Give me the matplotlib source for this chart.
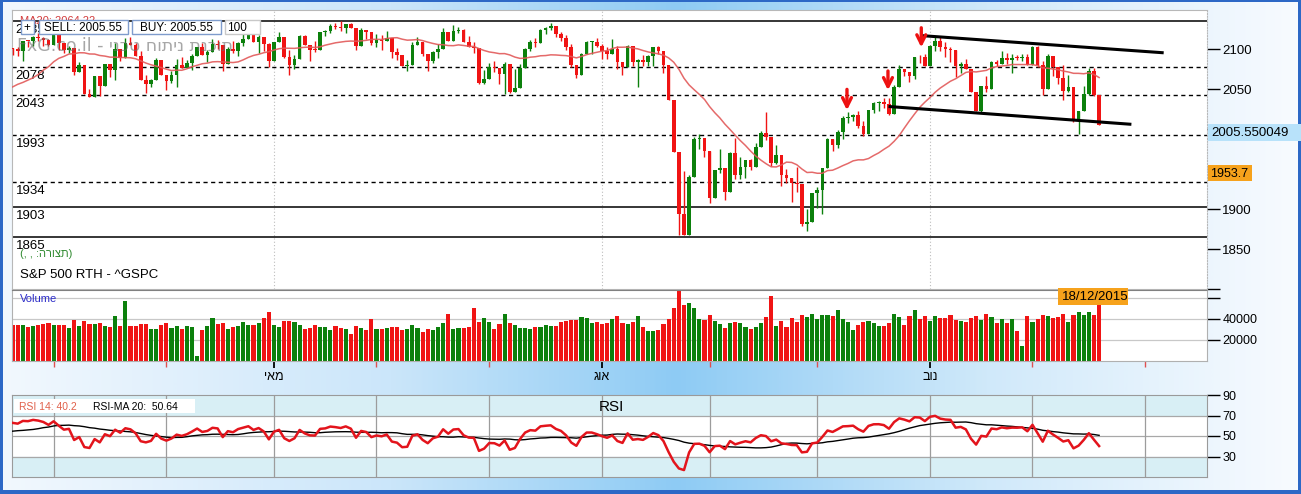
import numpy as np
import pandas as pd
import matplotlib
matplotlib.use("Agg")
import matplotlib.pyplot as plt
from matplotlib.colors import LinearSegmentedColormap
from matplotlib.patches import Rectangle

plt.rcParams['font.family'] = ['Liberation Sans', 'DejaVu Sans']
NARROW = ['Liberation Sans Narrow', 'Liberation Sans', 'DejaVu Sans']

# ---- data: S&P 500 daily, 18/02/2015 .. 18/12/2015 ----
# closes before the window (only used to seed MA20 / RSI14)
prior_closes = [2053.44, 2066.55, 2074.33, 2071.92, 2075.37, 2060.31, 2059.82, 2026.14, 2035.33, 2002.33,
                1989.63, 1972.74, 2012.89, 2061.23, 2070.65, 2078.54, 2082.17, 2081.88, 2088.77, 2090.57,
                2080.35, 2058.90,
                2058.20, 2020.58, 2002.61, 2025.90, 2062.14, 2044.81, 2028.26, 2023.03, 2011.27, 1992.67,
                2019.42, 2022.55, 2032.12, 2063.15, 2051.82, 2057.09, 2029.55, 2002.16, 2021.25, 1994.99,
                2020.85, 2050.03, 2041.51, 2062.52, 2055.47, 2046.74, 2068.59, 2068.53, 2088.48, 2096.99,
                2100.34]

closes = [2099.68, 2097.45, 2110.30, 2109.66, 2115.48, 2113.86, 2110.74, 2104.50,
          2117.39, 2107.78, 2098.53, 2101.04, 2071.26, 2079.43, 2044.16, 2040.24, 2065.95, 2053.40,
          2081.19, 2074.28, 2099.50, 2089.27, 2108.10, 2104.42, 2091.50, 2061.05, 2056.15, 2061.02,
          2086.24, 2067.89,
          2059.69, 2066.96, 2080.62, 2076.33, 2081.90, 2091.18, 2102.06, 2092.43, 2095.84, 2106.63,
          2104.99, 2081.18, 2100.40, 2097.29, 2107.96, 2112.93, 2117.69, 2108.92, 2114.76, 2106.85,
          2085.51,
          2108.29, 2114.49, 2089.46, 2080.15, 2088.00, 2116.10, 2105.33, 2099.12, 2098.48, 2121.10,
          2122.73, 2129.20, 2127.83, 2125.85, 2130.82, 2126.06, 2104.20, 2123.48, 2120.79, 2107.39,
          2111.73, 2109.60, 2114.07, 2095.84, 2092.83, 2079.28, 2080.15, 2105.20, 2108.86, 2094.11,
          2084.43, 2096.29, 2100.44, 2121.24, 2109.99, 2122.85, 2124.20, 2108.58, 2102.31, 2101.49,
          2057.64, 2063.11,
          2077.42, 2076.78, 2068.76, 2081.34, 2046.68, 2051.31, 2076.62, 2099.60, 2108.95, 2107.40,
          2124.29, 2126.64, 2128.28, 2119.21, 2114.15, 2102.15, 2079.65, 2067.64, 2093.25, 2108.57,
          2108.63, 2103.84,
          2098.04, 2093.32, 2099.84, 2083.56, 2077.57, 2104.18, 2084.07, 2086.05, 2083.39, 2091.54,
          2102.44, 2096.92, 2079.61, 2035.73, 1970.89, 1893.21, 1867.61, 1940.51, 1987.66, 1988.87,
          1972.18,
          1913.85, 1948.86, 1951.13, 1921.22, 1969.41, 1942.04, 1952.29, 1961.05, 1953.03, 1978.09,
          1995.31, 1990.20, 1958.03, 1966.97, 1942.74, 1938.76, 1932.24, 1931.34, 1881.77, 1884.09,
          1920.03,
          1923.82, 1951.36, 1987.05, 1979.92, 1995.83, 2013.43, 2014.89, 2017.46, 2003.69, 1994.24,
          2023.86, 2033.11, 2033.66, 2030.77, 2018.94, 2052.51, 2075.15, 2071.18, 2065.89, 2090.35,
          2089.41, 2079.36,
          2104.05, 2109.79, 2102.31, 2099.93, 2099.20, 2078.58, 2081.72, 2075.00, 2045.97, 2023.04,
          2053.19, 2050.44, 2083.58, 2081.24, 2089.17, 2086.59, 2089.14, 2088.87, 2090.11, 2080.41,
          2102.63, 2079.51, 2049.62, 2091.69, 2077.07, 2063.59, 2047.62, 2052.23, 2012.37, 2021.94,
          2043.41, 2073.07, 2041.89, 2005.55]

highs = [2100.7, 2102.1, 2110.6, 2110.1, 2115.8, 2119.6, 2115.0, 2112.5, 2117.5, 2115.8,
         2107.7, 2104.3, 2100.9, 2083.5, 2076.2, 2050.1, 2066.0, 2064.9, 2081.4, 2080.6,
         2106.9, 2098.7, 2113.9, 2114.9, 2107.6, 2097.4, 2067.2, 2062.8, 2088.9, 2084.1,
         2067.9, 2072.2, 2086.9, 2089.8, 2086.7, 2093.3, 2102.6, 2107.7, 2098.3, 2111.9,
         2111.3, 2104.9, 2101.9, 2109.6, 2109.3, 2120.9, 2120.9, 2125.9, 2116.9, 2113.8,
         2106.9, 2108.4, 2120.9, 2114.2, 2098.4, 2092.9, 2117.7, 2117.2, 2105.1, 2110.2,
         2121.5, 2123.9, 2131.8, 2133.0, 2134.7, 2131.8, 2132.2, 2126.2, 2126.2, 2122.3,
         2120.7, 2119.2, 2117.6, 2121.9, 2114.1, 2100.9, 2093.0, 2085.7, 2108.5, 2115.0,
         2104.9, 2094.1, 2097.0, 2106.8, 2126.7, 2121.0, 2130.2, 2127.9, 2125.1, 2116.4,
         2108.9, 2096.0, 2074.3, 2082.8, 2085.1, 2074.2, 2083.6, 2077.4, 2074.9, 2081.3,
         2100.7, 2111.0, 2114.2, 2124.4, 2128.0, 2132.8, 2128.3, 2121.6, 2116.9, 2106.0,
         2078.4, 2095.6, 2110.6, 2110.5, 2114.2, 2105.7, 2102.5, 2112.7, 2103.3, 2083.6,
         2105.4, 2103.9, 2087.6, 2092.9, 2092.9, 2102.9, 2103.5, 2096.9, 2079.6, 2034.1,
         1965.2, 1948.0, 1943.1, 1989.6, 1993.5, 1985.2, 1947.8, 1948.9, 1975.0, 1947.8,
         1970.9, 1988.6, 1965.3, 1961.1, 1963.1, 1983.0, 1997.3, 2020.9, 1989.4, 1979.6,
         1967.0, 1949.5, 1938.8, 1952.9, 1931.3, 1899.5, 1920.5, 1927.2, 1951.4, 1989.2,
         1987.1, 1999.3, 2016.5, 2020.9, 2018.7, 2022.3, 2009.6, 2024.2, 2033.5, 2034.5,
         2039.1, 2038.7, 2055.2, 2079.7, 2075.1, 2070.4, 2090.4, 2092.5, 2094.3, 2105.2,
         2116.5, 2114.6, 2108.8, 2101.9, 2095.9, 2083.7, 2086.9, 2071.0, 2044.6, 2053.2,
         2066.7, 2084.4, 2086.7, 2097.1, 2095.6, 2094.1, 2093.0, 2093.8, 2093.8, 2103.4,
         2104.3, 2085.0, 2093.8, 2090.4, 2077.1, 2080.3, 2067.6, 2047.3, 2022.9, 2053.9,
         2076.7, 2076.4, 2041.9]

lows = [2092.2, 2090.8, 2085.4, 2102.5, 2103.8, 2109.9, 2103.8, 2103.8, 2104.5, 2098.3,
        2094.5, 2095.5, 2067.3, 2071.3, 2044.2, 2039.7, 2040.2, 2041.2, 2055.5, 2065.1,
        2061.2, 2085.6, 2089.7, 2104.4, 2091.5, 2061.1, 2045.5, 2052.9, 2061.0, 2067.0,
        2048.4, 2057.3, 2052.4, 2076.1, 2076.3, 2074.3, 2091.2, 2092.3, 2083.2, 2095.8,
        2100.0, 2073.0, 2081.2, 2094.4, 2091.1, 2103.2, 2112.8, 2108.9, 2094.9, 2097.4,
        2077.5, 2085.5, 2108.3, 2088.8, 2067.9, 2075.0, 2088.0, 2104.6, 2085.6, 2096.0,
        2098.5, 2116.8, 2120.0, 2124.5, 2122.6, 2120.0, 2126.1, 2099.2, 2104.2, 2112.8,
        2104.9, 2102.5, 2099.1, 2109.6, 2088.9, 2085.7, 2079.1, 2072.1, 2080.2, 2105.2,
        2091.0, 2072.5, 2082.2, 2088.9, 2100.4, 2109.8, 2110.0, 2119.9, 2108.6, 2102.3,
        2095.4, 2056.2, 2056.3, 2063.1, 2071.0, 2056.3, 2044.0, 2044.7, 2049.3, 2051.3,
        2076.6, 2098.0, 2102.1, 2107.4, 2119.1, 2123.7, 2115.4, 2110.1, 2098.6, 2077.1,
        2063.5, 2067.6, 2094.1, 2094.1, 2102.1, 2087.3, 2088.0, 2093.3, 2075.5, 2067.0,
        2077.6, 2079.3, 2052.1, 2078.3, 2078.3, 2079.3, 2094.1, 2070.5, 2035.7, 1970.9,
        1867.0, 1867.1, 1872.8, 1940.5, 1975.2, 1965.6, 1907.0, 1916.5, 1944.7, 1911.2,
        1921.2, 1937.9, 1937.2, 1939.2, 1948.3, 1953.0, 1977.9, 1986.7, 1953.6, 1955.8,
        1929.0, 1932.6, 1908.9, 1921.5, 1879.2, 1871.9, 1888.9, 1900.7, 1893.7, 1951.4,
        1971.9, 1976.5, 1987.5, 2007.6, 2010.6, 2001.8, 1990.7, 1994.2, 2020.5, 2022.3,
        2026.6, 2017.2, 2018.9, 2058.8, 2066.5, 2058.8, 2063.1, 2082.6, 2079.1, 2080.8,
        2097.5, 2096.9, 2090.4, 2083.7, 2064.8, 2069.9, 2074.6, 2045.7, 2022.0, 2019.4,
        2045.9, 2050.4, 2078.8, 2083.2, 2081.4, 2070.3, 2086.3, 2084.4, 2080.4, 2082.9,
        2077.1, 2042.4, 2051.2, 2066.8, 2056.7, 2036.5, 2045.8, 2008.8, 1993.3, 2021.9,
        2042.4, 2041.7, 2005.5]

volumes = [34000, 34500, 33900, 32300, 32900, 33900, 35200, 36100, 34500, 34500,
           34500, 31300, 39400, 33500, 37700, 35500, 35200, 35800, 33500, 32600,
           42600, 33500, 57100, 33500, 32900, 35500, 35500, 30600, 30000, 34500,
           36100, 31300, 33500, 30600, 33500, 32600, 4800, 29700, 33500, 41000,
           35200, 36100, 30600,
           32300, 33500, 37400, 34500, 34500, 36500, 41000, 46500, 34500, 31900,
           38400, 38400, 37100, 34500, 30600, 31600, 34500, 32600, 31900, 29700,
           33500, 31300, 30600, 25800, 33500, 31600, 29700, 40300, 30600, 30600,
           31600, 32600, 32300, 29700, 30600, 34500, 31600, 27700, 30600, 29700,
           32300, 36100, 45200,
           30600, 31600, 31600, 32300, 50600, 37400, 41300, 37400, 30600, 35200,
           45200, 36500, 34500, 31300, 31600, 30600, 32600, 32600, 34500, 32900,
           33500, 37400, 38400, 39400, 39400, 42300, 41300, 36500, 37400, 35500,
           36500, 40300, 43200, 36500, 35500, 37400, 43200, 32600, 28700, 28700,
           29700, 35500,
           40300, 50600, 67400, 52900, 54800, 50600, 40300, 39400, 44200, 38400,
           35500, 31600, 36500, 37400, 36500, 32300, 30600, 32600, 36500, 42300,
           61600, 33500, 38400, 32600, 41300, 37400, 44200, 42300, 45200, 40300,
           44200, 44200, 43200, 48100, 40300, 37400, 29700, 34500, 37400, 38400,
           36500, 33500, 33500,
           36100, 45200, 42300, 34500, 43200, 48100, 40300, 43200, 38400, 43200,
           41300, 41300, 44200, 39400, 38400, 37400, 41300, 43200, 39400, 45200,
           42300, 36500, 40300, 36500, 40300, 28700, 14200, 43200, 37400, 40300,
           44200, 43200, 41300, 42300, 45200, 37400, 44200, 47100, 44200, 47100,
           44200, 53900]

holidays = ['2015-04-03', '2015-05-25', '2015-07-03', '2015-09-07', '2015-11-26',
            '2015-12-25', '2016-01-01']
month_names = {5: 'יאמ', 8: 'גוא', 11: 'בונ'}   # visual order of מאי / אוג / נוב

dashed_levels = [2078, 2043, 1993, 1934]
solid_levels = [2135, 1903, 1865]

# channel lines (bar index, price) and signal arrows
upper_x, upper_y = [177.4, 224.3], [2116.7, 2095.4]
lower_x, lower_y = [171.2, 218.0], [2028.0, 2006.0]
arrow_x = [162.8, 170.8, 177.3]
arrow_tip = [2020.0, 2045.0, 2098.5]
arrow_tail = [2053.0, 2076.0, 2130.0]

# ---- derived series ----
n = len(closes)
idx = np.arange(n)
c = np.array(closes)
o = np.r_[prior_closes[-1], c[:-1]]
hi = np.maximum(np.array(highs), np.maximum(o, c))
lo = np.minimum(np.array(lows), np.minimum(o, c))
col = np.where(c >= o, '#0c800c', '#f01414')

full = pd.Series(prior_closes + closes)
ma20 = full.rolling(20).mean().values[-n:]
delta = full.diff()
avg_g = delta.clip(lower=0).ewm(alpha=1 / 14, adjust=False).mean()
avg_l = (-delta.clip(upper=0)).ewm(alpha=1 / 14, adjust=False).mean()
rsi_full = 100 - 100 / (1 + avg_g / avg_l)
rsi = rsi_full.values[-n:]
rsi_ma = rsi_full.rolling(20).mean().values[-n:]

days = pd.bdate_range('2015-02-18', '2016-01-29', freq='C', holidays=holidays)
month_idx = [i for i in range(1, len(days)) if days[i].month != days[i - 1].month]
XMIN, XMAX = -0.12, 233.05
month_idx = [i for i in month_idx if i < XMAX]
major_idx = [i for i in month_idx if days[i].month in month_names]
minor_idx = [i for i in month_idx if days[i].month not in month_names]

# ---- figure ----
W, H = 1301, 494
fig = plt.figure(figsize=(W / 100, H / 100), dpi=100)


def px_axes(x0, y0, x1, y1, z=0):
    return fig.add_axes([x0 / W, 1 - y1 / H, (x1 - x0) / W, (y1 - y0) / H], zorder=z)


bg = px_axes(0, 0, W, H, z=-10)
bg.axis('off')
cmap = LinearSegmentedColormap.from_list(
    'bg', [(0, '#f2f8fe'), (0.3, '#cbe6fa'), (0.52, '#8ecbf4'), (0.76, '#d0e9fa'), (1, '#f8fbff')])
bg.imshow(np.linspace(0, 1, 512)[None, :], aspect='auto', cmap=cmap, extent=[0, 1, 0, 1])
bg.set_xlim(0, 1)
bg.set_ylim(0, 1)

# price panel
ax = px_axes(12, 10, 1207, 289, z=1)
ax.set_facecolor('white')
ax.set_xlim(XMIN, XMAX)
ax.set_ylim(1800, 2148.75)
for i in major_idx:
    ax.axvline(i, color='#bdbdbd', lw=0.8, ls=(0, (1, 2)), zorder=1)
for lvl in dashed_levels:
    ax.axhline(lvl, color='black', lw=1, ls=(0, (3, 2.5)), zorder=2)
for lvl in solid_levels:
    ax.axhline(lvl, color='black', lw=1.1, zorder=2)
for lvl in dashed_levels + solid_levels:
    ax.annotate(str(lvl), xy=(0.003, lvl), xycoords=('axes fraction', 'data'),
                xytext=(0, -2.5), textcoords='offset points', va='top', ha='left',
                fontsize=9.5, family=NARROW, zorder=3)
ax.vlines(idx, lo, hi, colors=col, lw=1, zorder=3)
ax.bar(idx, np.maximum(np.abs(c - o), 1.0), bottom=np.minimum(o, c), width=0.72,
       color=col, linewidth=0, zorder=4)
ax.plot(idx, ma20, color='#e25a5a', lw=1.1, alpha=0.9, zorder=5)
ax.plot(upper_x, upper_y, color='black', lw=2.2, zorder=6)
ax.plot(lower_x, lower_y, color='black', lw=2.2, zorder=6)
for x, tip, tail in zip(arrow_x, arrow_tip, arrow_tail):
    ax.annotate('', xy=(x, tip), xytext=(x, tail),
                arrowprops=dict(arrowstyle='->', color='#ee1111', lw=2.4, mutation_scale=16),
                zorder=7)
ax.yaxis.tick_right()
ax.set_yticks([1800, 1850, 1900, 1950, 2000, 2050, 2100])
ax.set_yticklabels(['', '1850', '1900', '1950', '2000', '2050', '2100'])
ax.tick_params(axis='y', length=9, width=1, pad=2, labelsize=9.5, labelfontfamily=NARROW)
ax.set_xticks([])
for s in ax.spines.values():
    s.set_color('#b8b8b8')
    s.set_linewidth(0.8)
ax.spines['right'].set_linestyle((0, (1, 1.5)))

# volume panel
vax = px_axes(12, 290, 1207, 361, z=1)
vax.set_facecolor('white')
vax.set_xlim(XMIN, XMAX)
vax.set_ylim(0, 67600)
for lvl in [20000, 40000, 60000]:
    vax.axhline(lvl, color='#c8c8c8', lw=0.9, zorder=0)
vax.bar(idx, volumes, width=0.8, color=col, linewidth=0, zorder=2)
vax.yaxis.tick_right()
vax.set_yticks([20000, 40000, 60000])
vax.set_yticklabels(['20000', '40000', ''])
vax.tick_params(axis='y', length=9, width=1, pad=2, labelsize=9, labelfontfamily=NARROW)
vax.set_xticks(major_idx)
vax.set_xticklabels([month_names[days[i].month] for i in major_idx])
vax.set_xticks(minor_idx, minor=True)
vax.tick_params(axis='x', which='major', length=5, width=1.3, color='black', labelsize=9, pad=2)
vax.tick_params(axis='x', which='minor', length=4, width=1, color='#e05050')
for s in vax.spines.values():
    s.set_color('#b0b0b0')
    s.set_linewidth(0.8)
vax.spines['top'].set_linestyle((0, (1, 1)))
vax.spines['top'].set_color('#808080')

# RSI panel
rax = px_axes(12, 395, 1207, 477, z=1)
rax.set_facecolor('white')
rax.set_xlim(XMIN, XMAX)
rax.set_ylim(10, 90)
rax.axhspan(70, 90, color='#d8eff5', zorder=0)
rax.axhspan(10, 30, color='#d8eff5', zorder=0)
for lvl in [30, 50, 70]:
    rax.axhline(lvl, color='#a8a8a8', lw=0.9, zorder=1)
for i in month_idx:
    rax.axvline(i, color='#9c9c9c', lw=0.9, zorder=1)
rax.plot(idx, rsi_ma, color='black', lw=1, zorder=3)
rax.plot(idx, rsi, color='#e3141c', lw=1.8, zorder=4)
rax.yaxis.tick_right()
rax.set_yticks([30, 50, 70, 90])
rax.tick_params(axis='y', length=9, width=1, pad=2, labelsize=9, labelfontfamily=NARROW)
rax.set_xticks([])
for s in rax.spines.values():
    s.set_color('#9a9a9a')
    s.set_linewidth(0.8)

# overlay in pixel coordinates
ov = px_axes(0, 0, W, H, z=20)
ov.set_xlim(0, W)
ov.set_ylim(H, 0)
ov.axis('off')

frame = '#2d68c6'
for r in [(0, 0, 3, H), (0, 0, W, 2.5), (0, H - 4, W, 4), (W - 3, 0, 3, H)]:
    ov.add_patch(Rectangle(r[:2], r[2], r[3], color=frame, lw=0, zorder=1))

ov.text(20, 21, 'MA20: 2064.22', color='#d23a3a', fontsize=8, va='center', zorder=1)
boxes = [(20.5, 13.5, '+', '#7f9ccc', 'center'),
         (38.5, 89, 'SELL: 2005.55', '#7f9ccc', 'center'),
         (131.5, 89, 'BUY: 2005.55', '#7f9ccc', 'center'),
         (224.5, 35, '100', '#c8c8c8', 'left')]
for x, w, label, ec, ha in boxes:
    ov.add_patch(Rectangle((x, 20.5), w, 13.5, facecolor='white', edgecolor=ec, lw=1, zorder=2))
    tx = x + w / 2 if ha == 'center' else x + 3
    ov.text(tx, 27.8, label, fontsize=8.5, ha=ha, va='center', zorder=3)

ov.text(17, 46, 'FxG.co.il - ינכט חותינ תנכות', fontsize=12.5, color='#6c6c6c',
        alpha=0.6, va='center', family=['DejaVu Sans'], zorder=4)

ov.text(20, 254, '(, , :הרוצת)', fontsize=8, color='#2f8a2f', va='center')
ov.text(20, 275, 'S&P 500 RTH - ^GSPC', fontsize=9.5, va='center')
ov.text(20, 299, 'Volume', fontsize=8, color='#2c2cc8', va='center')

ov.add_patch(Rectangle((1208, 124), 93, 17, facecolor='#b8e2fa', lw=0, zorder=2))
ov.text(1211, 133, '2005.550049', fontsize=9.5, va='center', zorder=3)
ov.add_patch(Rectangle((1208, 165), 44, 16, facecolor='#f6a21c', lw=0, zorder=2))
ov.text(1210, 173.5, '1953.7', fontsize=9, va='center', zorder=3)
ov.add_patch(Rectangle((1058, 288), 70, 17, facecolor='#f6a21c', lw=0, zorder=2))
ov.text(1062, 297, '18/12/2015', fontsize=9.5, va='center', zorder=3)

ov.add_patch(Rectangle((14, 399), 181, 14, facecolor='white', lw=0, zorder=2))
ov.text(19, 406.5, 'RSI 14: 40.2', fontsize=7.5, color='#e0604a', va='center', zorder=3)
ov.text(93, 406.5, 'RSI-MA 20:  50.64', fontsize=7.5, color='black', va='center', zorder=3)
ov.text(611, 407, 'RSI', fontsize=11, ha='center', va='center', zorder=3)

fig.savefig('out.png', dpi=100)
